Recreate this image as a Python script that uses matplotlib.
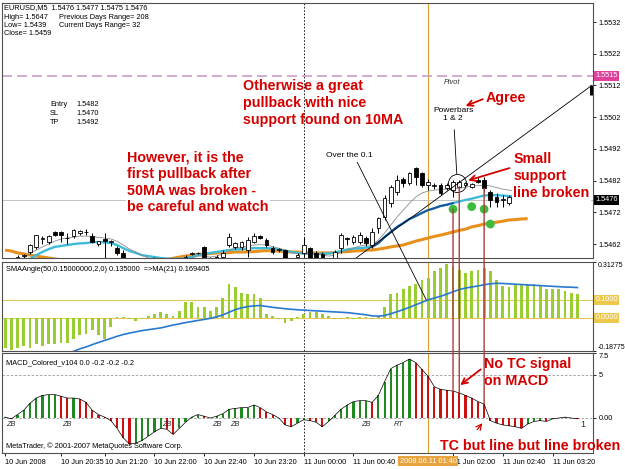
import numpy as np
import matplotlib
matplotlib.use('Agg')
import matplotlib.pyplot as plt
import matplotlib.transforms as mtrans
from matplotlib.patches import ConnectionPatch

plt.rcParams['font.family'] = ['Liberation Sans', 'DejaVu Sans']

# ---- EURUSD M5 candles, bar index 0 = 10 Jun 19:50 ----
opens = [1.54560, 1.54565, 1.54570, 1.54583, 1.54595, 1.54611, 1.54636, 1.54626, 1.54658, 1.54658,
         1.54640, 1.54645, 1.54655, 1.54658, 1.54645, 1.54620, 1.54636, 1.54626, 1.54607, 1.54592,
         1.54555, 1.54530, 1.54525, 1.54540, 1.54550, 1.54545, 1.54555, 1.54550, 1.54540, 1.54560,
         1.54590, 1.54592, 1.54611, 1.54570, 1.54580, 1.54578, 1.54617, 1.54611, 1.54611, 1.54601,
         1.54626, 1.54645, 1.54633, 1.54607, 1.54601, 1.54601, 1.54570, 1.54580, 1.54592, 1.54607,
         1.54592, 1.54590, 1.54565, 1.54570, 1.54607, 1.54639, 1.54626, 1.54626, 1.54639, 1.54617,
         1.54670, 1.54705, 1.54749, 1.54784, 1.54825, 1.54812, 1.54859, 1.54844, 1.54806, 1.54803,
         1.54806, 1.54796, 1.54790, 1.54800, 1.54806, 1.54800, 1.54822, 1.54822, 1.54784, 1.54768,
         1.54759, 1.54749]
highs = [1.54572, 1.54575, 1.54585, 1.54590, 1.54620, 1.54650, 1.54645, 1.54648, 1.54662, 1.54662,
         1.54655, 1.54668, 1.54665, 1.54668, 1.54655, 1.54630, 1.54655, 1.54632, 1.54615, 1.54600,
         1.54565, 1.54545, 1.54550, 1.54560, 1.54580, 1.54560, 1.54565, 1.54560, 1.54565, 1.54585,
         1.54595, 1.54596, 1.54615, 1.54578, 1.54585, 1.54601, 1.54655, 1.54625, 1.54630, 1.54642,
         1.54655, 1.54650, 1.54640, 1.54615, 1.54607, 1.54605, 1.54575, 1.54592, 1.54642, 1.54612,
         1.54598, 1.54595, 1.54575, 1.54600, 1.54655, 1.54642, 1.54648, 1.54658, 1.54645, 1.54670,
         1.54705, 1.54774, 1.54806, 1.54837, 1.54831, 1.54847, 1.54862, 1.54847, 1.54825, 1.54812,
         1.54812, 1.54812, 1.54822, 1.54822, 1.54815, 1.54812, 1.54830, 1.54830, 1.54790, 1.54781,
         1.54774, 1.54774]
lows = [1.54545, 1.54550, 1.54560, 1.54575, 1.54590, 1.54605, 1.54620, 1.54620, 1.54645, 1.54626,
        1.54620, 1.54640, 1.54650, 1.54650, 1.54623, 1.54615, 1.54570, 1.54615, 1.54585, 1.54540,
        1.54520, 1.54510, 1.54515, 1.54530, 1.54540, 1.54530, 1.54540, 1.54530, 1.54535, 1.54555,
        1.54585, 1.54588, 1.54560, 1.54550, 1.54555, 1.54570, 1.54611, 1.54605, 1.54600, 1.54579,
        1.54623, 1.54635, 1.54610, 1.54590, 1.54595, 1.54560, 1.54550, 1.54575, 1.54580, 1.54555,
        1.54550, 1.54555, 1.54550, 1.54565, 1.54592, 1.54617, 1.54620, 1.54620, 1.54615, 1.54607,
        1.54655, 1.54696, 1.54737, 1.54774, 1.54800, 1.54806, 1.54806, 1.54800, 1.54790, 1.54795,
        1.54774, 1.54790, 1.54768, 1.54795, 1.54800, 1.54796, 1.54812, 1.54784, 1.54737, 1.54737,
        1.54737, 1.54743]
closes = [1.54565, 1.54570, 1.54579, 1.54586, 1.54617, 1.54648, 1.54638, 1.54645, 1.54648, 1.54648,
          1.54638, 1.54664, 1.54661, 1.54659, 1.54626, 1.54629, 1.54629, 1.54629, 1.54592, 1.54555,
          1.54530, 1.54525, 1.54540, 1.54550, 1.54545, 1.54555, 1.54550, 1.54540, 1.54560, 1.54579,
          1.54592, 1.54593, 1.54570, 1.54560, 1.54565, 1.54592, 1.54642, 1.54623, 1.54626, 1.54633,
          1.54645, 1.54639, 1.54617, 1.54595, 1.54604, 1.54570, 1.54560, 1.54586, 1.54617, 1.54570,
          1.54560, 1.54565, 1.54570, 1.54595, 1.54648, 1.54636, 1.54642, 1.54648, 1.54623, 1.54658,
          1.54702, 1.54765, 1.54800, 1.54822, 1.54812, 1.54844, 1.54831, 1.54806, 1.54815, 1.54806,
          1.54781, 1.54806, 1.54815, 1.54815, 1.54812, 1.54809, 1.54815, 1.54796, 1.54759, 1.54752,
          1.54762, 1.54768]

# moving averages on price
ma50 = [1.54601, 1.54598, 1.54592, 1.54589, 1.54585, 1.54582, 1.54579, 1.54576, 1.54573, 1.54570,
        1.54567, 1.54565, 1.54562, 1.54560, 1.54558, 1.54556, 1.54555, 1.54554, 1.54553, 1.54552,
        1.54552, 1.54553, 1.54555, 1.54558, 1.54562, 1.54566, 1.54571, 1.54575, 1.54579, 1.54582,
        1.54585, 1.54587, 1.54589, 1.54590, 1.54592, 1.54592, 1.54593, 1.54595, 1.54595, 1.54595,
        1.54596, 1.54598, 1.54599, 1.54599, 1.54598, 1.54596, 1.54595, 1.54595, 1.54593, 1.54592,
        1.54592, 1.54592, 1.54592, 1.54593, 1.54595, 1.54596, 1.54598, 1.54599, 1.54601, 1.54601,
        1.54604, 1.54607, 1.54611, 1.54614, 1.54617, 1.54623, 1.54629, 1.54634, 1.54639, 1.54644,
        1.54648, 1.54653, 1.54658, 1.54663, 1.54667, 1.54674, 1.54678, 1.54683, 1.54686, 1.54689,
        1.54692, 1.54696, 1.54697, 1.54699, 1.54700]
ma10 = [1.54530, 1.54545, 1.54555, 1.54563, 1.54573, 1.54585, 1.54595, 1.54604, 1.54611, 1.54614,
        1.54617, 1.54620, 1.54622, 1.54623, 1.54626, 1.54626, 1.54625, 1.54623, 1.54617, 1.54607,
        1.54598, 1.54592, 1.54585, 1.54582, 1.54579, 1.54576, 1.54574, 1.54573, 1.54573, 1.54576,
        1.54579, 1.54585, 1.54589, 1.54592, 1.54595, 1.54598, 1.54601, 1.54603, 1.54604, 1.54606,
        1.54607, 1.54607, 1.54607, 1.54606, 1.54603, 1.54599, 1.54595, 1.54592, 1.54590, 1.54589,
        1.54589, 1.54589, 1.54590, 1.54593, 1.54598, 1.54603, 1.54606, 1.54607, 1.54609, 1.54611,
        1.54623, 1.54642, 1.54658, 1.54674, 1.54686, 1.54699, 1.54708, 1.54718, 1.54727, 1.54733,
        1.54740, 1.54744, 1.54749, 1.54754, 1.54759, 1.54763, 1.54768, 1.54773, 1.54774, 1.54774,
        1.54773, 1.54771, 1.54771]
ma_fast = [1.54540, 1.54555, 1.54566, 1.54576, 1.54589, 1.54601, 1.54611, 1.54620, 1.54629, 1.54636,
           1.54639, 1.54642, 1.54645, 1.54645, 1.54644, 1.54641, 1.54639, 1.54636, 1.54629, 1.54617,
           1.54604, 1.54595, 1.54585, 1.54576, 1.54570, 1.54567, 1.54563, 1.54567, 1.54570, 1.54573,
           1.54576, 1.54582, 1.54582, 1.54579, 1.54582, 1.54589, 1.54601, 1.54607, 1.54611, 1.54614,
           1.54617, 1.54618, 1.54617, 1.54612, 1.54607, 1.54601, 1.54593, 1.54589, 1.54589, 1.54592,
           1.54589, 1.54585, 1.54582, 1.54585, 1.54595, 1.54601, 1.54607, 1.54614, 1.54617, 1.54617,
           1.54633, 1.54655, 1.54680, 1.54705, 1.54727, 1.54749, 1.54768, 1.54781, 1.54787, 1.54790,
           1.54792, 1.54793, 1.54795, 1.54796, 1.54799, 1.54803, 1.54804, 1.54806, 1.54803, 1.54798,
           1.54793, 1.54790, 1.54787]

# SMAAngle indicator and its MA(21)
sma_angle = [-0.17, -0.18, -0.17, -0.16, -0.17, -0.15, -0.16, -0.15, -0.15, -0.14,
             -0.14, -0.12, -0.10, -0.09, -0.07, -0.10, -0.12, -0.05, 0.002, 0.004,
             -0.01, -0.02, -0.005, 0.01, 0.02, 0.03, 0.02, 0.01, 0.04, 0.09,
             0.09, 0.06, 0.06, 0.04, 0.06, 0.11, 0.19, 0.17, 0.14, 0.13,
             0.13, 0.11, 0.02, 0.01, -0.01, -0.03, -0.02, 0.005, 0.02, 0.03,
             0.03, 0.02, 0.01, -0.01, -0.005, 0.002, -0.005, 0.003, 0.005, -0.01,
             0.01, 0.06, 0.13, 0.14, 0.16, 0.18, 0.19, 0.21, 0.22, 0.26,
             0.28, 0.30, 0.29, 0.27, 0.25, 0.26, 0.27, 0.28, 0.26, 0.21,
             0.18, 0.17, 0.19, 0.19, 0.19, 0.19, 0.18, 0.16, 0.16, 0.16,
             0.15, 0.14, 0.135]
sma_ma = [-0.33, -0.32, -0.31, -0.29, -0.28, -0.26, -0.25, -0.24, -0.22, -0.21,
          -0.20, -0.19, -0.176, -0.165, -0.152, -0.14, -0.128, -0.117, -0.105, -0.095,
          -0.087, -0.08, -0.073, -0.068, -0.063, -0.058, -0.05, -0.042, -0.035, -0.028,
          -0.022, -0.016, -0.010, -0.004, 0.004, 0.015, 0.030, 0.045, 0.055, 0.062,
          0.066, 0.068, 0.063, 0.058, 0.054, 0.050, 0.047, 0.044, 0.042, 0.040,
          0.038, 0.036, 0.034, 0.032, 0.030, 0.028, 0.024, 0.020, 0.016, 0.010,
          0.008, 0.012, 0.022, 0.033, 0.045, 0.058, 0.072, 0.086, 0.100, 0.110,
          0.120, 0.132, 0.145, 0.158, 0.166, 0.172, 0.178, 0.185, 0.190, 0.193,
          0.192, 0.190, 0.188, 0.186, 0.184, 0.182, 0.180, 0.178, 0.176, 0.174,
          0.172, 0.171, 0.169]

# MACD_Colored histogram
macd = [0.1, -0.1, 0.4, 0.9, 1.7, 2.3, 2.6, 2.7, 2.7, 2.5,
        2.3, 2.3, 2.2, 1.8, 0.9, 0.4, 0.1, -0.3, -1.2, -2.3,
        -3.0, -2.9, -2.6, -2.1, -1.6, -1.2, -1.3, -1.9, -1.2, -0.5,
        0.1, 0.4, 0.2, 0.0, 0.2, 0.5, 1.0, 1.1, 1.2, 1.2,
        1.5, 1.2, 0.7, 0.4, 0.0, -0.8, -1.0, -0.6, -0.2, -0.3,
        -0.5, -1.0, -0.4, 0.3, 1.0, 1.5, 1.9, 2.0, 2.0, 1.8,
        2.6, 4.2, 5.7, 6.1, 6.4, 6.8, 6.4, 5.6, 4.8, 3.6,
        3.3, 3.2, 3.1, 2.9, 2.6, 2.3, 1.9, 1.6, -0.3, -0.6,
        -0.8, -0.9, -1.0, -1.2, -0.7, -0.4, -0.3, -0.4, -0.1, 0.0,
        0.1, 0.0, -0.1]

price_ticks = [1.5532, 1.5522, 1.5512, 1.5502, 1.5492, 1.5482, 1.5472, 1.5462]
pivot = 1.5515
bid = 1.5476
time_ticks = [0, 9, 16, 24, 32, 40, 48, 56, 72, 80, 88]
time_labels = ['10 Jun 2008', '10 Jun 20:35', '10 Jun 21:20', '10 Jun 22:00', '10 Jun 22:40',
               '10 Jun 23:20', '11 Jun 00:00', '11 Jun 00:40', '11 Jun 02:00', '11 Jun 02:40',
               '11 Jun 03:20']
zb_bars = [0, 9, 25, 33, 36, 57]
dots_x = [72, 75, 77, 78]
dots_y = [1.54730, 1.54738, 1.54730, 1.54683]

RED = '#d40000'
SMALL = 5.3

fig = plt.figure(figsize=(6.25, 4.69), dpi=100)


def panel(top, bottom):
    return fig.add_axes([2 / 625, 1 - bottom / 469, 591 / 625, (bottom - top) / 469])


ax1 = panel(3, 258)
ax2 = panel(262, 351)
ax3 = panel(353, 453)

for ax in (ax1, ax2, ax3):
    ax.set_xlim(-0.5, 94.5)
    for s in ax.spines.values():
        s.set_color('#505050')
        s.set_linewidth(0.8)
    ax.yaxis.tick_right()
    ax.tick_params(axis='y', labelsize=SMALL, length=2.5, width=0.6, pad=1.5)
    ax.axvline(48, color='black', ls=(0, (2, 2)), lw=0.6, zorder=1)
    ax.axvline(68, color='#d8a030', lw=0.8, zorder=1)
ax1.set_xticks([])
ax2.set_xticks([])

# ---- price panel ----
o, h, l, c = map(np.array, (opens, highs, lows, closes))
idx = np.arange(len(c))
ax1.set_ylim(1.54576, 1.55380)
ax1.axhline(pivot, color='#c8a0c8', lw=1.2, dashes=(6, 3), zorder=1)
ax1.axhline(bid, color='#b8b8b8', lw=0.6, zorder=1)
ax1.plot(np.arange(len(ma50)), ma50, color='#e8901c', lw=2.2, zorder=2, solid_capstyle='butt')
ax1.plot(np.arange(len(ma10)), ma10, color='#3cbcd8', lw=1.7, zorder=2)
ax1.plot(np.arange(59, 73), ma10[59:73], color='#1c4f9c', lw=1.4, zorder=2)
ax1.plot(np.arange(len(ma_fast)), ma_fast, color='#8c8c8c', lw=0.6, zorder=2)
ax1.vlines(idx, l, h, color='black', lw=0.7, zorder=3)
body = np.maximum(np.abs(c - o), 0.000006)
ax1.bar(idx, body, bottom=np.minimum(o, c), width=0.6,
        color=np.where(c >= o, 'white', 'black'), edgecolor='black', lw=0.6, zorder=4)
ax1.set_yticks(price_ticks)
ax1.set_yticklabels([f'{v:.4f}' for v in price_ticks])

tr1 = mtrans.blended_transform_factory(ax1.transAxes, ax1.transData)
ax1.text(1.004, pivot, '1.5515', transform=tr1, ha='left', va='center', fontsize=SMALL,
         color='white', clip_on=False, bbox=dict(boxstyle='square,pad=0.2', fc='#e0409c', ec='none'))
ax1.text(1.004, bid, '1.5476', transform=tr1, ha='left', va='center', fontsize=SMALL,
         color='white', clip_on=False, bbox=dict(boxstyle='square,pad=0.2', fc='black', ec='none'))

# support trendline and its end marker
ax1.plot([56.0, 94.3], [1.5457, 1.5512], color='black', lw=0.6, zorder=5)
ax1.vlines(94.2, 1.55090, 1.55122, color='black', lw=2.2, zorder=5)

# header
ax1.text(0.004, 0.995, 'EURUSD,M5  1.5476 1.5477 1.5475 1.5476', transform=ax1.transAxes,
         fontsize=SMALL, va='top', ha='left')
ax1.text(0.004, 0.957, 'High= 1.5647\nLow= 1.5439\nClose= 1.5459', transform=ax1.transAxes,
         fontsize=SMALL, va='top', ha='left', linespacing=1.25)
ax1.text(0.097, 0.957, 'Previous Days Range= 208\nCurrent Days Range= 32', transform=ax1.transAxes,
         fontsize=SMALL, va='top', ha='left', linespacing=1.25)
ax1.text(7.2, 1.55070, 'Entry\nSL\nTP', fontsize=SMALL, va='top', ha='left', linespacing=1.35)
ax1.text(15.1, 1.55070, '1.5482\n1.5470\n1.5492', fontsize=SMALL, va='top', ha='right',
         linespacing=1.35)
ax1.text(71.8, 1.55130, 'Pivot', fontsize=SMALL, style='italic', ha='center', va='center',
         color='#303030')

# annotations
red_kw = dict(color=RED, fontsize=10.3, fontweight='bold', linespacing=1.25, zorder=6)
ax1.text(38.2, 1.55140, 'Otherwise a great\npullback with nice\nsupport found on 10MA',
         va='top', ha='left', **red_kw)
ax1.text(19.6, 1.54916, 'However, it is the\nfirst pullback after\n50MA was broken -\nbe careful and watch',
         va='top', ha='left', bbox=dict(boxstyle='square,pad=0.1', fc='white', ec='none'), **red_kw)
ax1.text(77.3, 1.55080, 'Agree', va='center', ha='left', **red_kw)
ax1.text(81.7, 1.54910, 'Small\nsupport\nline broken', va='top', ha='left',
         bbox=dict(boxstyle='square,pad=0.1', fc='white', ec='none'), **red_kw)
ax1.annotate('', xy=(73.6, 1.55052), xytext=(77.2, 1.55080),
             arrowprops=dict(arrowstyle='->', color=RED, lw=1.3))
ax1.annotate('', xy=(74.0, 1.54818), xytext=(81.5, 1.54862),
             arrowprops=dict(arrowstyle='->', color=RED, lw=1.3), zorder=6)

ax1.text(72.0, 1.55052, 'Powerbars\n1 & 2', fontsize=6, ha='center', va='top', linespacing=1.2)
ax1.plot([72.2, 72.6], [1.54980, 1.54842], color='black', lw=0.6)
ax1.plot([72.7], [1.54812], 'o', ms=13, mfc='none', mec='black', mew=0.6, zorder=6)
ax1.text(51.6, 1.54900, 'Over the 0.1', fontsize=6, ha='left', va='center')
ax1.scatter(dots_x, dots_y, s=40, color='#3cbb3c', zorder=7, edgecolors='none')

# ---- SMAAngle panel ----
sidx = np.arange(len(sma_angle))
ax2.set_ylim(-0.18775, 0.31275)
ax2.axhline(0.1, color='#e6c85a', lw=0.8, zorder=1)
ax2.axhline(0.0, color='#e6c85a', lw=0.8, zorder=1)
ax2.bar(sidx, sma_angle, width=0.45, color='#9acd32', zorder=2)
ax2.plot(np.arange(len(sma_ma)), sma_ma, color='#2a78d0', lw=1.2, zorder=3)
ax2.set_yticks([0.31275, -0.18775])
ax2.set_yticklabels(['0.31275', '-0.18775'])
ax2.tick_params(axis='y', labelsize=5.0, pad=0.8)
ax2.get_yticklabels()[0].set_va('top')
ax2.get_yticklabels()[1].set_va('bottom')
tr2 = mtrans.blended_transform_factory(ax2.transAxes, ax2.transData)
for lv, lab in ((0.1, '0.1000'), (0.0, '0.0000')):
    ax2.text(1.004, lv, lab, transform=tr2, ha='left', va='center', fontsize=SMALL, color='white',
             clip_on=False, bbox=dict(boxstyle='square,pad=0.2', fc='#eec84a', ec='none'))
ax2.text(0.006, 0.95, 'SMAAngle(50,0.15000000,2,0) 0.135000  =>MA(21) 0.169405',
         transform=ax2.transAxes, fontsize=SMALL, va='top', ha='left')

# ---- MACD panel ----
midx = np.arange(len(macd))
m = np.array(macd)
rising = np.diff(m, prepend=m[0]) >= 0
ax3.set_ylim(-4.04, 7.5)
ax3.axhline(5, color='#9a9a9a', lw=0.6, ls=(0, (3, 2)), zorder=1)
ax3.axhline(0, color='#9a9a9a', lw=0.6, ls=(0, (3, 2)), zorder=1)
ax3.bar(midx, m, width=0.35, color=np.where(rising, '#1f8a1f', '#cc1111'), zorder=2)
ax3.plot(midx, m, color='black', lw=0.5, zorder=3)
ax3.set_yticks([7.5, 5, 0])
ax3.set_yticklabels(['7.5', '5', '0.00'])
ax3.get_yticklabels()[0].set_va('top')
ax3.set_xticks(time_ticks)
ax3.set_xticklabels(time_labels, fontsize=SMALL, ha='left')
ax3.tick_params(axis='x', length=2.5, width=0.6, pad=1.5)
for b in zb_bars:
    ax3.text(b + 0.2, -0.7, 'ZB', fontsize=SMALL, style='italic', ha='left', va='center',
             color='#303030')
ax3.text(62.5, -0.7, 'RT', fontsize=SMALL, style='italic', ha='left', va='center', color='#303030')
ax3.text(92.5, -0.8, '1', fontsize=6.5, ha='left', va='center', color='#303030')
ax3.text(0.006, 0.94, 'MACD_Colored_v104 0.0 -0.2 -0.2 -0.2', transform=ax3.transAxes,
         fontsize=SMALL, va='top', ha='left')
ax3.text(0.006, 0.07, 'MetaTrader, \u00a9 2001-2007 MetaQuotes Software Corp.',
         transform=ax3.transAxes, fontsize=SMALL, va='center', ha='left')
tr3 = mtrans.blended_transform_factory(ax3.transData, ax3.transAxes)
ax3.text(68, -0.08, '2008.06.11 01:40', transform=tr3, ha='center', va='center', fontsize=SMALL,
         color='white', clip_on=False, zorder=10,
         bbox=dict(boxstyle='square,pad=0.25', fc='#e8a33c', ec='none'))
ax3.text(77.0, 7.0, 'No TC signal\non MACD', va='top', ha='left', **red_kw)
ax3.text(69.9, -3.2, 'TC but line but line broken', va='center', ha='left', **red_kw)
ax3.annotate('', xy=(72.8, 3.6), xytext=(76.8, 5.8),
             arrowprops=dict(arrowstyle='->', color=RED, lw=1.3))
ax3.annotate('', xy=(77.0, -0.35), xytext=(75.6, -1.6),
             arrowprops=dict(arrowstyle='->', color=RED, lw=0.9))

# lines spanning panels
fig.add_artist(ConnectionPatch(xyA=(56.6, 1.54878), coordsA='data', axesA=ax1,
                               xyB=(67.7, 0.1), coordsB='data', axesB=ax2, color='black', lw=0.6))
for bx, py, my in ((72, 1.54730, 3.1), (73, 1.54800, 2.9), (77, 1.54796, 1.6)):
    fig.add_artist(ConnectionPatch(xyA=(bx, py), coordsA='data', axesA=ax1,
                                   xyB=(bx, my), coordsB='data', axesB=ax3,
                                   color='#b03a3a', lw=1.0))

fig.savefig('out.png', dpi=100, facecolor='white')
